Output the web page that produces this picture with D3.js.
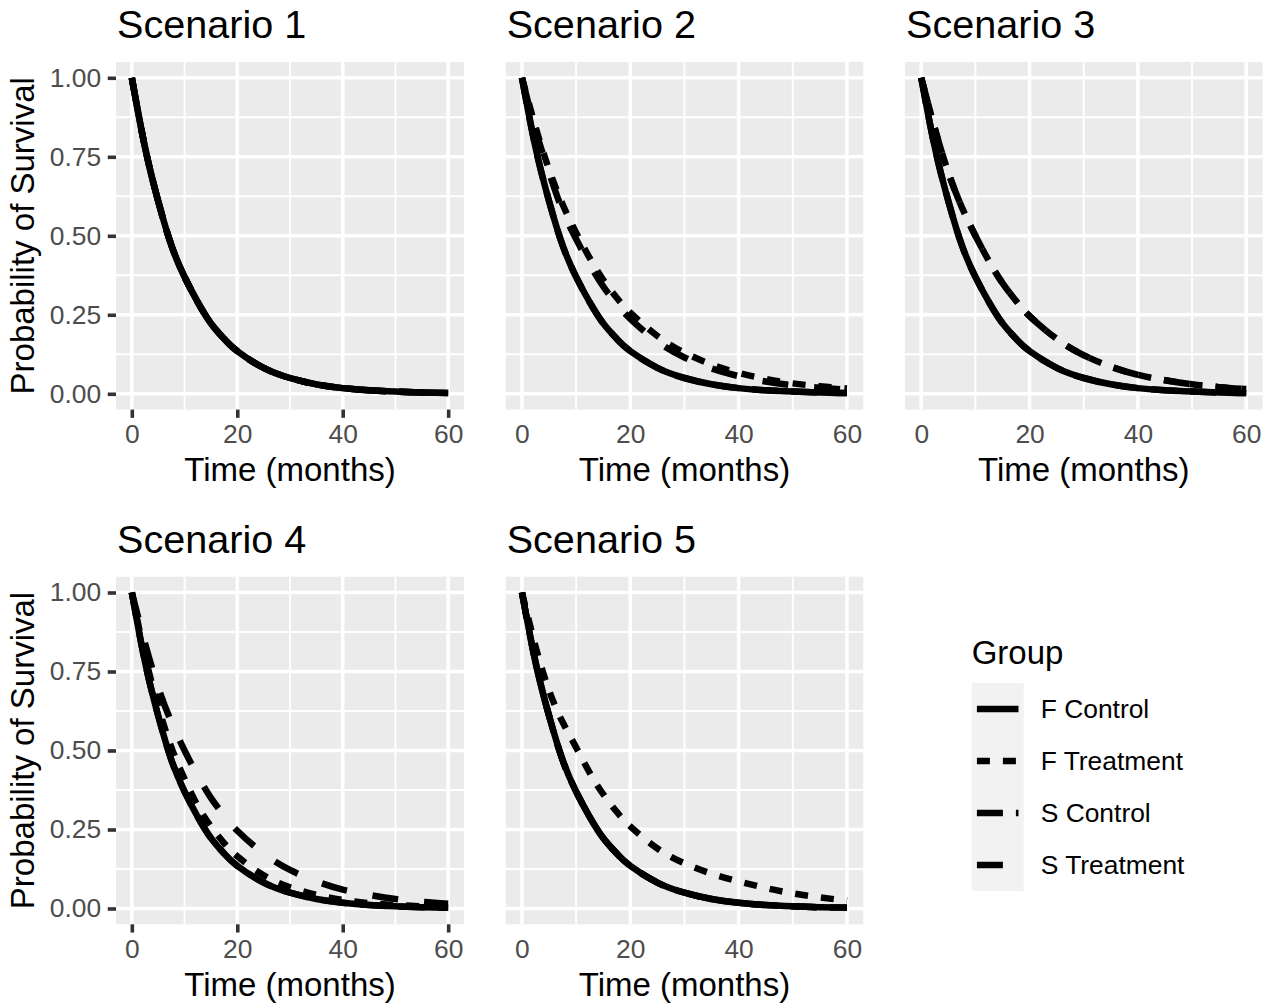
<!DOCTYPE html>
<html>
<head>
<meta charset="utf-8">
<script src="https://cdn.jsdelivr.net/npm/d3@7"></script>
<style>
  body { margin: 0; background: #fff; }
  svg text { font-family: "Liberation Sans", Arial, Helvetica, sans-serif; }
</style>
</head>
<body>
<div id="chart"></div>
<script>
const times = [0, 2.5, 5, 7.5, 10, 12.5, 15, 17.5, 20, 25, 30, 35, 40, 45, 50, 55, 60]

// survival readings
const controlSurv = [1, 0.78, 0.61, 0.47, 0.37, 0.29, 0.223, 0.174, 0.135, 0.082, 0.05, 0.03, 0.018, 0.011, 0.007, 0.004, 0.0025]
const treatSurv   = [1, 0.84, 0.70, 0.59, 0.50, 0.42, 0.35, 0.294, 0.246, 0.174, 0.122, 0.086, 0.06, 0.043, 0.03, 0.021, 0.015]
const s2FTreat    = [1, 0.845, 0.71, 0.60, 0.51, 0.43, 0.361, 0.304, 0.257, 0.183, 0.13, 0.093, 0.066, 0.047, 0.033, 0.024, 0.017]
const s2STreat    = [1, 0.835, 0.70, 0.58, 0.49, 0.41, 0.34, 0.284, 0.237, 0.165, 0.115, 0.08, 0.056, 0.039, 0.027, 0.019, 0.013]
const s4FTreat    = [1, 0.80, 0.64, 0.51, 0.41, 0.325, 0.26, 0.207, 0.165, 0.105, 0.067, 0.043, 0.027, 0.017, 0.011, 0.007, 0.0045]
const s5FTreat    = [1, 0.83, 0.69, 0.59, 0.51, 0.43, 0.362, 0.306, 0.26, 0.19, 0.143, 0.11, 0.086, 0.065, 0.048, 0.035, 0.025]

const groups = ["F Control", "F Treatment", "S Control", "S Treatment"]
const scenarioNames = ["Scenario 1", "Scenario 2", "Scenario 3", "Scenario 4", "Scenario 5"]
// one array per group, in group order
const scenarioSeries = [
  [controlSurv, controlSurv, controlSurv, controlSurv],
  [controlSurv, s2FTreat, controlSurv, s2STreat],
  [controlSurv, treatSurv, controlSurv, treatSurv],
  [controlSurv, s4FTreat, controlSurv, treatSurv],
  [controlSurv, s5FTreat, controlSurv, controlSurv],
]
const xTicks = [0, 20, 40, 60]
const yTicks = [0, 0.25, 0.5, 0.75, 1]

// ggplot default linetypes: solid, 22, 42, 44 (unit = line width)
const lw = 6.5
const dashes = [null, `${2*lw},${2*lw}`, `${4*lw},${2*lw}`, `${4*lw},${4*lw}`]

const width = 1269
const height = 1007

const svg = d3.select("#chart")
  .append("svg")
    .attr("width", width)
    .attr("height", height)

// panel placement
const panelW = [348, 357.5, 357.5]
const colLeft = [116, 505.7, 905]
const rowTop = [62, 576.7]
const panelH = 347.6

const layout = [
  {col: 0, row: 0}, {col: 1, row: 0}, {col: 2, row: 0},
  {col: 0, row: 1}, {col: 1, row: 1},
]

const tickLen = 8.25
const tickPad = 6.6

scenarioNames.forEach((name, i) => {
  const pos = layout[i]
  const left = colLeft[pos.col]
  const top = rowTop[pos.row]
  const w = panelW[pos.col]
  const showTicks = pos.col == 0

  const xScale = d3.scaleLinear().domain([-3, 63]).range([left, left + w])
  const yScale = d3.scaleLinear().domain([-0.05, 1.05]).range([top + panelH, top])

  const g = svg.append("g")

  // panel background
  g.append("rect")
    .attr("x", left)
    .attr("y", top)
    .attr("width", w)
    .attr("height", panelH)
    .attr("fill", "#EBEBEB")

  // minor grid
  g.append("g")
    .selectAll("line")
    .data([10, 30, 50])
    .join("line")
      .attr("x1", d => xScale(d)).attr("x2", d => xScale(d))
      .attr("y1", top).attr("y2", top + panelH)
      .attr("stroke", "#fff").attr("stroke-width", 1.9)
  g.append("g")
    .selectAll("line")
    .data([0.125, 0.375, 0.625, 0.875])
    .join("line")
      .attr("y1", d => yScale(d)).attr("y2", d => yScale(d))
      .attr("x1", left).attr("x2", left + w)
      .attr("stroke", "#fff").attr("stroke-width", 1.9)

  // major grid
  g.append("g")
    .selectAll("line")
    .data(xTicks)
    .join("line")
      .attr("x1", d => xScale(d)).attr("x2", d => xScale(d))
      .attr("y1", top).attr("y2", top + panelH)
      .attr("stroke", "#fff").attr("stroke-width", 3.6)
  g.append("g")
    .selectAll("line")
    .data(yTicks)
    .join("line")
      .attr("y1", d => yScale(d)).attr("y2", d => yScale(d))
      .attr("x1", left).attr("x2", left + w)
      .attr("stroke", "#fff").attr("stroke-width", 3.6)

  // curves
  const lineGenerator = d3.line()
    .curve(d3.curveNatural)
    .x((d, j) => xScale(times[j]))
    .y(d => yScale(d))

  g.append("g")
    .selectAll("path")
    .data(scenarioSeries[i])
    .join("path")
      .attr("d", d => lineGenerator(d))
      .attr("fill", "none")
      .attr("stroke", "#000")
      .attr("stroke-width", lw)
      .attr("stroke-linecap", "butt")
      .attr("stroke-linejoin", "round")
      .attr("stroke-dasharray", (d, j) => dashes[j])

  // x axis
  const xAxis = g.append("g")
    .attr("transform", `translate(0,${top + panelH})`)
    .call(d3.axisBottom(xScale).tickValues(xTicks).tickSize(tickLen).tickPadding(tickPad))
  xAxis.select(".domain").remove()
  xAxis.selectAll(".tick line")
    .attr("stroke", showTicks ? "#333333" : "none")
    .attr("stroke-width", 3.6)
  xAxis.selectAll(".tick text")
    .attr("fill", "#4D4D4D")
    .style("font-size", "26.4px")

  // y axis only on left column
  if (showTicks) {
    const yAxis = g.append("g")
      .attr("transform", `translate(${left},0)`)
      .call(d3.axisLeft(yScale).tickValues(yTicks).tickFormat(d3.format(".2f")).tickSize(tickLen).tickPadding(tickPad))
    yAxis.select(".domain").remove()
    yAxis.selectAll(".tick line")
      .attr("stroke", "#333333")
      .attr("stroke-width", 3.6)
    yAxis.selectAll(".tick text")
      .attr("fill", "#4D4D4D")
      .style("font-size", "26.4px")

    g.append("text")
      .attr("transform", `translate(34,${top + panelH / 2}) rotate(-90)`)
      .attr("text-anchor", "middle")
      .style("font-size", "33px")
      .attr("fill", "#000")
      .text("Probability of Survival")
  }

  // x axis title
  g.append("text")
    .attr("x", left + w / 2)
    .attr("y", top + 419)
    .attr("text-anchor", "middle")
    .style("font-size", "33px")
    .attr("fill", "#000")
    .text("Time (months)")

  // title
  g.append("text")
    .attr("x", left + 1)
    .attr("y", top - 24)
    .style("font-size", "39.6px")
    .attr("fill", "#000")
    .text(name)
})

// legend
const legend = svg.append("g")
  .attr("transform", "translate(971.7,683)")

legend.append("text")
  .attr("x", 0)
  .attr("y", -19)
  .style("font-size", "33px")
  .attr("fill", "#000")
  .text("Group")

const keySize = 52
const key = legend.selectAll("g.key")
  .data(groups)
  .join("g")
    .attr("class", "key")
    .attr("transform", (d, i) => `translate(0,${i * keySize})`)

key.append("rect")
  .attr("width", keySize)
  .attr("height", keySize)
  .attr("fill", "#F2F2F2")

key.append("line")
  .attr("x1", keySize * 0.1)
  .attr("x2", keySize * 0.9)
  .attr("y1", keySize / 2)
  .attr("y2", keySize / 2)
  .attr("stroke", "#000")
  .attr("stroke-width", lw)
  .attr("stroke-dasharray", (d, i) => dashes[i])

key.append("text")
  .attr("x", keySize + 17)
  .attr("y", keySize / 2)
  .attr("dy", "0.35em")
  .style("font-size", "26.4px")
  .attr("fill", "#000")
  .text(d => d)
</script>
</body>
</html>
